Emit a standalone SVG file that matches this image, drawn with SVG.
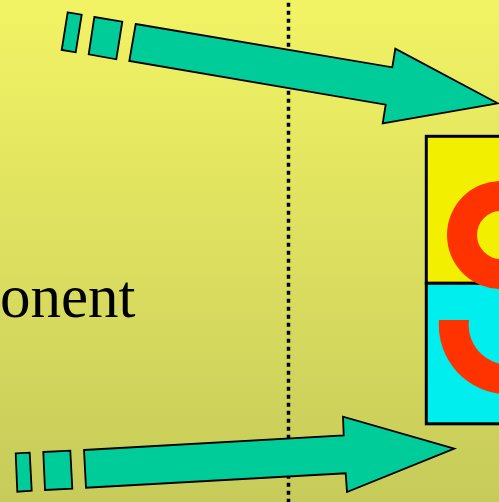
<svg xmlns="http://www.w3.org/2000/svg" width="499" height="502" viewBox="0 0 499 502">
  <defs>
    <linearGradient id="bg" x1="0" y1="0" x2="0" y2="1">
      <stop offset="0" stop-color="#f2f364"/>
      <stop offset="1" stop-color="#c6cb5a"/>
    </linearGradient>
  </defs>
  <style>
    .arrow { fill: #00cc99; stroke: #000; stroke-width: 1.8; stroke-linejoin: miter; }
    .red { fill: #ff3300; fill-rule: evenodd; }
    .label { font-family: "Liberation Serif", "Times New Roman", serif; font-size: 61px; fill: #000; }
  </style>
  <rect width="499" height="502" fill="url(#bg)"/>
  <g id="divider">
    <line x1="288.5" y1="2.7" x2="288.5" y2="502" stroke="#000" stroke-width="3.5" stroke-dasharray="4 4"/>
  </g>
  <g id="label">
    <text class="label" x="0" y="317">onent</text>
  </g>
  <g id="component-box">
    <rect x="426.3" y="136.3" width="80" height="147" fill="#f2f000" stroke="#000" stroke-width="3"/>
    <rect x="426.3" y="283.3" width="80" height="140.5" fill="#00eeee" stroke="#000" stroke-width="3"/>
    <path class="red" d="M447,235 a54,54 0 1,0 108,0 a54,54 0 1,0 -108,0 Z M477,235 a24,24 0 1,0 48,0 a24,24 0 1,0 -48,0 Z"/>
    <path class="red" d="M439,320 L469,320 A39.5,39.5 0 0,0 508,364.5 L508,394.3 A69.3,69.3 0 0,1 439,320 Z"/>
  </g>
  <g id="connectors">
    <g id="arrow-top">
      <polygon class="arrow" points="67.7,12.3 81.7,14.7 75.7,52.3 61.7,50"/>
      <polygon class="arrow" points="94.3,17 122.3,21.7 116.3,59.3 88.7,54.3"/>
      <polygon class="arrow" points="135.7,24 392.3,67.3 395.3,48.7 497.7,103.3 382.7,123.3 385.7,104.7 129.3,61"/>
    </g>
    <g id="arrow-bottom">
      <polygon class="arrow" points="15.7,453.3 29.7,452.7 31.7,490.7 17.3,491.7"/>
      <polygon class="arrow" points="43.3,452 70.3,450.7 72.3,488.7 45,490"/>
      <polygon class="arrow" points="84,450 343.7,435.3 343,416.7 454.3,448.7 347,492 345.7,473.3 86,487.7"/>
    </g>
  </g>
</svg>
